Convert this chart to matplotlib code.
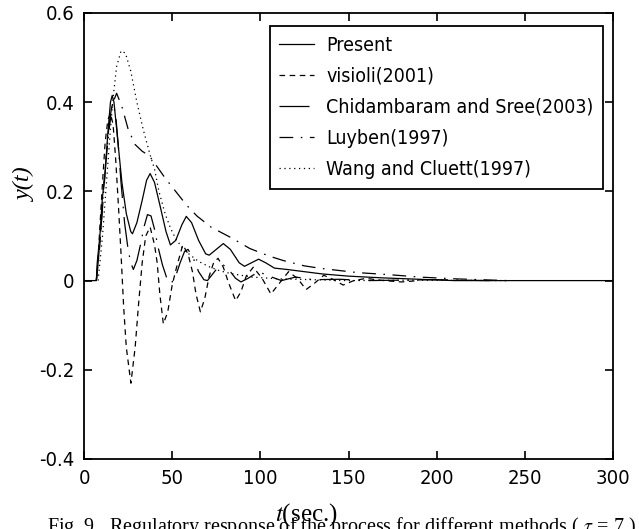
import matplotlib
matplotlib.use("Agg")
import matplotlib.pyplot as plt
from matplotlib import font_manager

# regulatory response y(t) for the different tuning methods
t_present = [0, 7, 7.5, 9, 10.3, 12, 13.5, 15, 16, 17, 19, 21.5, 24, 26.5, 27.5, 30, 33, 35.5, 37.5,
             40, 43, 46.5, 49, 52, 55.5, 58, 61, 65, 69, 71, 75, 79, 83, 88, 91, 95, 99, 103, 108,
             115, 125, 135, 150, 170, 190, 210, 300]
y_present = [0, 0, 0.04, 0.10, 0.18, 0.245, 0.33, 0.40, 0.415, 0.40, 0.32, 0.22, 0.15, 0.11, 0.105,
             0.13, 0.18, 0.225, 0.24, 0.22, 0.17, 0.11, 0.08, 0.09, 0.125, 0.144, 0.13, 0.09, 0.06,
             0.057, 0.07, 0.083, 0.07, 0.04, 0.032, 0.04, 0.048, 0.04, 0.028, 0.025, 0.02, 0.015,
             0.01, 0.006, 0.003, 0, 0]

t_visioli = [7, 8, 9, 10.5, 12, 13.5, 15, 16.5, 18, 19.5, 21, 22.5, 24, 26.6, 29, 31, 33, 35,
             37.5, 40, 41.5, 43, 45, 47.5, 50, 52.5, 56, 59, 61.5, 63.5, 66, 68.5, 71, 73.5, 76,
             79, 82, 86, 89, 92, 96, 101, 106, 111, 116, 121, 126, 131, 136, 141, 147, 153, 160,
             170, 180, 190]
y_visioli = [0, 0.05, 0.12, 0.22, 0.31, 0.36, 0.375, 0.35, 0.27, 0.17, 0.06, -0.06, -0.15, -0.23,
             -0.15, -0.05, 0.04, 0.10, 0.12, 0.08, 0.04, -0.03, -0.097, -0.07, -0.01, 0.03, 0.08,
             0.06, 0.02, -0.03, -0.07, -0.04, 0.01, 0.04, 0.05, 0.03, -0.005, -0.045, -0.025,
             0.01, 0.03, 0.005, -0.03, -0.005, 0.02, 0.005, -0.02, -0.005, 0.012, 0.003, -0.01,
             0, 0.005, 0, -0.003, 0]

t_chid = [7, 8, 9.5, 11, 12.5, 14, 15.5, 16.5, 18, 19.5, 21, 23, 25, 26.5, 28, 30, 32, 34, 36,
          38, 40, 42, 44.5, 47, 49.5, 52, 54.5, 57, 59, 62, 65, 68, 70, 73, 76, 79, 82, 86, 89,
          93, 99, 105, 112, 120, 130, 145, 160, 200, 230]
y_chid = [0, 0.04, 0.11, 0.19, 0.27, 0.34, 0.385, 0.40, 0.37, 0.30, 0.22, 0.13, 0.07, 0.04, 0.025,
          0.045, 0.08, 0.12, 0.148, 0.145, 0.115, 0.075, 0.035, 0.005, -0.006, 0.01, 0.04, 0.065,
          0.07, 0.05, 0.02, 0.002, 0, 0.015, 0.03, 0.035, 0.025, 0.005, -0.003, 0.005, 0.02,
          0.01, 0, 0.008, 0.002, 0.003, 0, 0.002, 0]

t_luyben = [7, 8, 9, 11, 12.5, 14, 15.5, 16.5, 18.5, 21.5, 25, 29, 33, 37, 41, 46, 52, 58, 64,
            72, 84, 94, 105, 113, 125, 135, 155, 174, 190, 210, 225, 240]
y_luyben = [0, 0.04, 0.08, 0.2, 0.27, 0.33, 0.38, 0.40, 0.42, 0.39, 0.34, 0.305, 0.29, 0.28,
            0.258, 0.23, 0.2, 0.17, 0.145, 0.12, 0.095, 0.072, 0.055, 0.045, 0.033, 0.027,
            0.018, 0.013, 0.008, 0.004, 0.002, 0]

t_wang = [8, 9, 10.5, 12, 13.5, 15, 16.5, 18.5, 21, 23.5, 26.5, 30, 33.5, 37.4, 40, 42.5, 46, 49,
          52, 56, 60, 65, 71, 77, 83, 95, 110, 130, 150, 190, 240]
y_wang = [0, 0.04, 0.1, 0.18, 0.26, 0.34, 0.41, 0.48, 0.515, 0.51, 0.47, 0.40, 0.34, 0.283, 0.25,
          0.2, 0.15, 0.118, 0.094, 0.072, 0.058, 0.043, 0.031, 0.022, 0.016, 0.008, 0.004,
          0.002, 0, 0.001, 0]

labels = ["Present", "visioli(2001)", "Chidambaram and Sree(2003)", "Luyben(1997)",
          "Wang and Cluett(1997)"]

# look for a narrow sans face (matlab-ish labels); fall back to Liberation Sans
narrow_file = None
for f in font_manager.fontManager.ttflist:
    low = f.fname.lower()
    if ("narrow" in low or "condensed" in low) and "bold" not in low and "italic" not in low \
            and "oblique" not in low and "serif" not in low and "mono" not in low:
        narrow_file = f.fname
        break

if narrow_file:
    tick_fp = font_manager.FontProperties(fname=narrow_file, size=14.5)
    leg_fp = font_manager.FontProperties(fname=narrow_file, size=14)
else:
    tick_fp = font_manager.FontProperties(family="Liberation Sans", size=14)
    leg_fp = font_manager.FontProperties(family="Liberation Sans", size=13)

serif = ["Liberation Serif", "DejaVu Serif"]

fig = plt.figure(figsize=(6.39, 5.29), dpi=100)
ax = fig.add_axes([84 / 639, 1 - 459 / 529, 529 / 639, 446 / 529])

lw = 0.9
ax.plot(t_present, y_present, color="black", lw=lw, label=labels[0])
ax.plot(t_visioli, y_visioli, color="black", lw=lw, dashes=(4.5, 3.6), label=labels[1])
ax.plot(t_chid, y_chid, color="black", lw=lw, dashes=(24, 7, 1.3, 7), label=labels[2])
ax.plot(t_luyben, y_luyben, color="black", lw=lw, dashes=(11, 6, 1.3, 6), label=labels[3])
ax.plot(t_wang, y_wang, color="black", lw=lw, dashes=(1.0, 2.9), label=labels[4])

ax.set_xlim(0, 300)
ax.set_ylim(-0.4, 0.6)
ax.set_xticks([0, 50, 100, 150, 200, 250, 300])
ax.set_yticks([-0.4, -0.2, 0, 0.2, 0.4, 0.6])
ax.set_yticklabels(["-0.4", "-0.2", "0", "0.2", "0.4", "0.6"])
ax.tick_params(direction="in", length=6, width=1.2, top=True, right=True, pad=7)
for lab in ax.get_xticklabels() + ax.get_yticklabels():
    lab.set_fontproperties(tick_fp)
for sp in ax.spines.values():
    sp.set_linewidth(1.3)

leg = ax.legend(loc="upper right", bbox_to_anchor=(0.981, 0.971), borderaxespad=0,
                prop=leg_fp, handlelength=1.8, handletextpad=0.6,
                labelspacing=0.62, borderpad=0.5, fancybox=False, framealpha=1)
leg.get_frame().set_edgecolor("black")
leg.get_frame().set_linewidth(1.3)

fig.text(25 / 639, 1 - 185 / 529, "y(t)", rotation=90, ha="center", va="center",
         family=serif, style="italic", size=17.5)
fig.text(306 / 639, 1 - 521 / 529, "$t$(sec.)", ha="center", va="baseline",
         family=serif, size=18, math_fontfamily="stix")
fig.text(47 / 639, 1 - 532 / 529,
         "Fig. 9.  Regulatory response of the process for different methods ( $\\tau$ = 7 )",
         ha="left", va="baseline", family=serif, size=14.5, math_fontfamily="stix")

fig.savefig("out.png", dpi=100)
